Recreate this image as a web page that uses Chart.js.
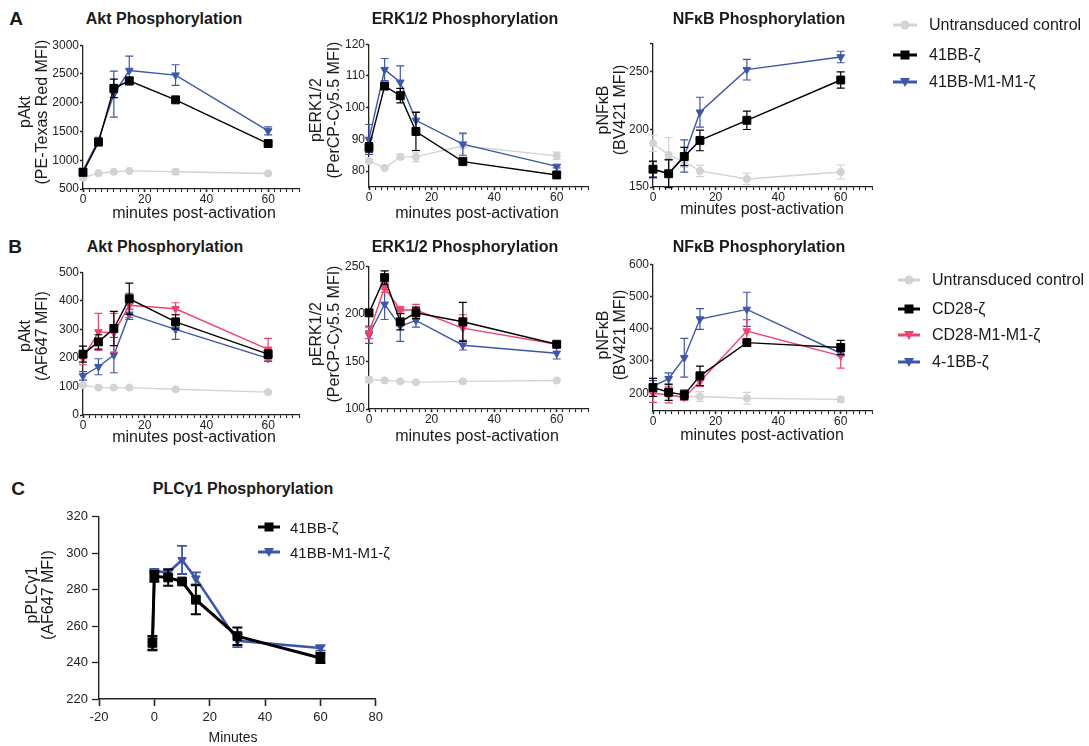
<!DOCTYPE html>
<html><head><meta charset="utf-8">
<script src="https://cdn.jsdelivr.net/npm/chart.js@4.4.0/dist/chart.umd.min.js"></script>
<style>
body{margin:0;background:#fff;}
#wrap{position:relative;width:1089px;height:746px;overflow:hidden;font-family:'Liberation Sans',Arial,sans-serif;color:#1a1a1a;background:#fff;}
canvas{position:absolute;}
.t{position:absolute;white-space:nowrap;transform:translate(-50%,-50%);line-height:1;}
.r{transform:translate(-50%,-50%) rotate(-90deg);}
.l{position:absolute;white-space:nowrap;transform:translate(0,-50%);line-height:1;}
svg{position:absolute;left:0;top:0;}
</style></head><body><div id="wrap"></div>
<script>
// ---------- data ----------
const times = [0, 5, 10, 15, 30, 60];
const timesC = [-0.7, 0, 5, 10, 15, 30, 60];

// Panel A: Akt
const aktA_untr = [695, 775, 800, 815, 800, 770];
const aktA_untrErr = [15, 10, 10, 10, 45, 10];
const aktA_bbz = [790, 1315, 2250, 2380, 2050, 1290];
const aktA_bbzErr = [40, 40, 160, 60, 40, 30];
const aktA_m1 = [820, 1350, 2150, 2560, 2480, 1510];
const aktA_m1Err = [40, 50, 400, 250, 180, 70];
// Panel A: ERK
const erkA_untr = [83.2, 81.0, 84.5, 84.5, 88.0, 84.8];
const erkA_untrErr = [0.5, 0.3, 0.8, 1.5, 3.5, 1.2];
const erkA_bbz = [87.5, 106.8, 103.8, 92.5, 83.0, 78.8];
const erkA_bbzErr = [1.5, 0.5, 2.3, 6.0, 0.6, 0.8];
const erkA_m1 = [90.0, 112.0, 108.0, 96.0, 88.5, 81.5];
const erkA_m1Err = [4.7, 3.5, 5.2, 2.6, 3.5, 0.5];
// Panel A: NFkB
const nfA_untr = [188, 178, 172, 164, 157, 163];
const nfA_untrErr = [7, 15, 5, 5, 5, 6];
const nfA_bbz = [165.5, 161.5, 176.5, 190.5, 208, 243];
const nfA_bbzErr = [7, 12, 8, 9, 8, 7];
const nfA_m1 = [165, 162, 177, 215, 252, 263];
const nfA_m1Err = [7, 12, 14, 13, 9, 5];

// Panel B: Akt
const aktB_untr = [105, 96, 96, 96, 90, 80];
const aktB_untrErr = [5, 3, 3, 3, 3, 3];
const aktB_cd28 = [213, 256, 303, 407, 326, 213];
const aktB_cd28Err = [28, 25, 60, 55, 25, 15];
const aktB_cd28m1 = [198, 291, 288, 384, 372, 230];
const aktB_cd28m1Err = [22, 65, 68, 42, 21, 38];
const aktB_bb = [137, 169, 210, 353, 300, 198];
const aktB_bbErr = [15, 28, 62, 18, 35, 10];
// Panel B: ERK
const erkB_untr = [130.7, 130, 129, 128, 129, 130];
const erkB_untrErr = [3, 1, 1, 1, 1, 1];
const erkB_cd28 = [201, 238, 191.6, 201, 191.6, 168];
const erkB_cd28Err = [1, 7, 8.5, 6, 20.5, 2.5];
const erkB_cd28m1 = [180, 227.5, 204, 204, 185, 168];
const erkB_cd28m1Err = [6, 5, 3.5, 6, 14, 2];
const erkB_bb = [178, 210, 187, 193, 167, 158.5];
const erkB_bbErr = [9, 16, 16, 7, 5, 6];
// Panel B: NFkB
const nfB_untr = [202, 193, 190, 190, 184.5, 181];
const nfB_untrErr = [10, 15, 10, 15, 18, 8];
const nfB_cd28 = [218, 203, 195, 254, 357, 342];
const nfB_cd28Err = [28, 25, 15, 30, 8, 22];
const nfB_cd28m1 = [200, 195, 187, 236, 393, 316];
const nfB_cd28m1Err = [28, 25, 8, 15, 35, 38];
const nfB_bb = [221, 245, 310, 430, 460, 324];
const nfB_bbErr = [18, 18, 60, 32, 53, 8];

// Panel C: PLCg1
const plc_bbz = [250.8, 287.3, 286.7, 284.5, 274.5, 254.5, 242.5];
const plc_bbzErr = [3.8, 3, 4.5, 0.5, 8, 4.8, 2.8];
const plc_m1 = [250, 290.3, 289.4, 296.3, 286.2, 252, 248];
const plc_m1Err = [3.5, 1, 1.2, 7.7, 3.3, 3.5, 1.5];

// ---------- ticks ----------
const xTickLabelsAB = [0, 20, 40, 60];
const yTicksA1 = [500, 1000, 1500, 2000, 2500, 3000];
const yTicksA2 = [80, 90, 100, 110, 120];
const yTicksA3 = [150, 200, 250];
const yTicksB1 = [0, 100, 200, 300, 400, 500];
const yTicksB2 = [100, 150, 200, 250];
const yTicksB3 = [200, 300, 400, 500, 600];
const xTicksC = [-20, 0, 20, 40, 60, 80];
const yTicksC = [220, 240, 260, 280, 300, 320];

// ---------- styles ----------
Chart.defaults.font.family = "'Liberation Sans', Arial, sans-serif";
Chart.defaults.color = '#222';
const ST = {
  grey:  {color:'#d3d3d3', ps:'circle',   r:3.6, rot:0,   bw:1.4},
  black: {color:'#000000', ps:'rect',     r:5.6, rot:0,   bw:1.4},
  blue:  {color:'#3e56a9', ps:'triangle', r:4.4, rot:180, bw:1.4},
  pink:  {color:'#f0426f', ps:'triangle', r:4.4, rot:180, bw:1.4}
};

function ds(label, xs, ys, err, st, extra) {
  const s = ST[st];
  return Object.assign({
    label, data: xs.map((x, i) => ({x, y: ys[i]})), err,
    borderColor: s.color, backgroundColor: s.color,
    pointBackgroundColor: s.color, pointBorderColor: s.color,
    pointStyle: s.ps, pointRadius: s.r, pointRotation: s.rot, pointBorderWidth: 1,
    borderWidth: s.bw, tension: 0, clip: false, errWidth: 1.2, capW: 4
  }, extra || {});
}

const errorBars = {
  id: 'errorBars',
  beforeDatasetDraw(chart, args) {
    const d = chart.data.datasets[args.index];
    if (!d.err) return;
    const xs = chart.scales.x, ys = chart.scales.y, ctx = chart.ctx;
    ctx.save();
    ctx.strokeStyle = d.borderColor;
    ctx.lineWidth = d.errWidth;
    d.data.forEach((p, i) => {
      const e = d.err[i];
      if (!e) return;
      const x = xs.getPixelForValue(p.x);
      const yl = ys.getPixelForValue(p.y - e), yh = ys.getPixelForValue(p.y + e);
      const c = d.capW;
      ctx.beginPath();
      ctx.moveTo(x, yl); ctx.lineTo(x, yh);
      ctx.moveTo(x - c, yl); ctx.lineTo(x + c, yl);
      ctx.moveTo(x - c, yh); ctx.lineTo(x + c, yh);
      ctx.stroke();
    });
    ctx.restore();
  }
};

const wrap = document.getElementById('wrap');

function panel(p) {
  const YW = 70, PT = 8, PR = 10, XH = p.XH || 26;
  const cv = document.createElement('canvas');
  const w = YW + (p.R - p.L) + PR, h = PT + (p.B - p.T) + XH;
  cv.width = w; cv.height = h;
  cv.style.left = (p.L - YW) + 'px'; cv.style.top = (p.T - PT) + 'px';
  cv.style.width = w + 'px'; cv.style.height = h + 'px';
  wrap.appendChild(cv);
  const xMarks = p.xMarks, yMarks = p.yMarks;
  new Chart(cv, {
    type: 'line',
    data: {datasets: p.datasets},
    plugins: [errorBars],
    options: {
      responsive: false, animation: false, devicePixelRatio: 1,
      layout: {padding: {top: PT, right: PR, left: 0, bottom: 0}, autoPadding: false},
      plugins: {legend: {display: false}, tooltip: {enabled: false}, title: {display: false}},
      scales: {
        x: {
          type: 'linear', min: p.xMin, max: p.xMax,
          afterFit(s) { s.height = XH; },
          afterBuildTicks(s) { s.ticks = xMarks.map(v => ({value: v})); },
          ticks: {autoSkip: false, maxRotation: 0, minRotation: 0, padding: p.xPad !== undefined ? p.xPad : 0,
            font: {size: p.fs || 12}, color: '#222',
            callback: v => p.xLabels.includes(v) ? String(v) : ''},
          grid: {display: true, drawOnChartArea: false, drawTicks: true, tickLength: p.xTL || 3,
            tickColor: '#222', tickWidth: c => (c.tick && p.xLabels.includes(c.tick.value)) ? 1.6 : 1.1},
          border: {display: true, color: '#222', width: p.axW || 1.3}
        },
        y: {
          type: 'linear', min: p.yMin, max: p.yMax,
          afterFit(s) { s.width = YW; },
          afterBuildTicks(s) { s.ticks = yMarks.map(v => ({value: v})); },
          ticks: {autoSkip: false, padding: p.yPad !== undefined ? p.yPad : 1, font: {size: p.fs || 12}, color: '#222',
            callback: v => p.yLabels.includes(v) ? String(v) : ''},
          grid: {display: true, drawOnChartArea: false, drawTicks: true, tickLength: p.yTL || 3,
            tickColor: '#222', tickWidth: 1.3},
          border: {display: true, color: '#222', width: p.axW || 1.3}
        }
      }
    }
  });
}

const minorX = [];
for (let v = 0; v <= 70; v += 2) minorX.push(v);

function abPanel(L, R, T, B, yMin, yMax, yLabels, yMarks, datasets) {
  panel({L, R, T, B, xMin: 0, xMax: 70, yMin, yMax, xLabels: xTickLabelsAB, xMarks: minorX,
    yLabels, yMarks: yMarks || yLabels, datasets});
}

// Row A
abPanel(83, 299, 45, 189, 500, 3000, yTicksA1, null, [
  ds('41BB-ζ', times, aktA_bbz, aktA_bbzErr, 'black'),
  ds('41BB-M1-M1-ζ', times, aktA_m1, aktA_m1Err, 'blue'),
  ds('Untransduced control', times, aktA_untr, aktA_untrErr, 'grey')
]);
abPanel(369, 588, 44, 187, 75, 120, yTicksA2, null, [
  ds('41BB-ζ', times, erkA_bbz, erkA_bbzErr, 'black'),
  ds('41BB-M1-M1-ζ', times, erkA_m1, erkA_m1Err, 'blue'),
  ds('Untransduced control', times, erkA_untr, erkA_untrErr, 'grey')
]);
abPanel(653, 872, 43, 187, 150, 275, yTicksA3, yTicksA3.concat([275]), [
  ds('41BB-ζ', times, nfA_bbz, nfA_bbzErr, 'black'),
  ds('41BB-M1-M1-ζ', times, nfA_m1, nfA_m1Err, 'blue'),
  ds('Untransduced control', times, nfA_untr, nfA_untrErr, 'grey')
]);
// Row B
abPanel(83, 299, 272, 415, 0, 500, yTicksB1, null, [
  ds('CD28-ζ', times, aktB_cd28, aktB_cd28Err, 'black'),
  ds('CD28-M1-M1-ζ', times, aktB_cd28m1, aktB_cd28m1Err, 'pink'),
  ds('4-1BB-ζ', times, aktB_bb, aktB_bbErr, 'blue'),
  ds('Untransduced control', times, aktB_untr, aktB_untrErr, 'grey')
]);
abPanel(369, 588, 266, 409, 100, 250, yTicksB2, null, [
  ds('CD28-ζ', times, erkB_cd28, erkB_cd28Err, 'black'),
  ds('CD28-M1-M1-ζ', times, erkB_cd28m1, erkB_cd28m1Err, 'pink'),
  ds('4-1BB-ζ', times, erkB_bb, erkB_bbErr, 'blue'),
  ds('Untransduced control', times, erkB_untr, erkB_untrErr, 'grey')
]);
abPanel(653, 872, 264, 411, 145, 600, yTicksB3, null, [
  ds('CD28-ζ', times, nfB_cd28, nfB_cd28Err, 'black'),
  ds('CD28-M1-M1-ζ', times, nfB_cd28m1, nfB_cd28m1Err, 'pink'),
  ds('4-1BB-ζ', times, nfB_bb, nfB_bbErr, 'blue'),
  ds('Untransduced control', times, nfB_untr, nfB_untrErr, 'grey')
]);
// Row C
panel({L: 99, R: 377, T: 513, B: 699, xMin: -20, xMax: 80, yMin: 220, yMax: 320,
  xLabels: xTicksC, xMarks: xTicksC, yLabels: yTicksC, yMarks: yTicksC,
  fs: 13, xTL: 7, yTL: 7, xPad: 4, yPad: 4, XH: 32, axW: 1.4,
  datasets: [
    ds('41BB-ζ', timesC, plc_bbz, plc_bbzErr, 'black', {borderWidth: 3, errWidth: 2, capW: 5, pointRadius: 6.2}),
    ds('41BB-M1-M1-ζ', timesC, plc_m1, plc_m1Err, 'blue', {borderWidth: 2.6, errWidth: 1.8, capW: 5, pointRadius: 4.8})
  ]});

// ---------- text ----------
function text(s, x, y, size, bold, rot) {
  const d = document.createElement('div');
  d.className = 't' + (rot ? ' r' : '');
  d.textContent = s;
  d.style.left = x + 'px'; d.style.top = y + 'px';
  d.style.fontSize = size + 'px';
  if (bold) d.style.fontWeight = 'bold';
  wrap.appendChild(d);
}
text('A', 16, 18, 19, true);
text('B', 15, 246, 19, true);
text('C', 18, 488, 19, true);
text('Akt Phosphorylation', 164, 19, 16, true);
text('ERK1/2 Phosphorylation', 465, 19, 16, true);
text('NFκB Phosphorylation', 759, 19, 16, true);
text('Akt Phosphorylation', 165, 247, 16, true);
text('ERK1/2 Phosphorylation', 465, 247, 16, true);
text('NFκB Phosphorylation', 759, 247, 16, true);
text('PLCγ1 Phosphorylation', 243, 489, 16, true);

text('pAkt', 25, 112, 16, false, true);
text('(PE-Texas Red MFI)', 42, 112, 16, false, true);
text('pERK1/2', 316, 110, 16, false, true);
text('(PerCP-Cy5.5 MFI)', 334, 110, 16, false, true);
text('pNFκB', 603, 110, 16, false, true);
text('(BV421 MFI)', 620, 110, 16, false, true);
text('pAkt', 25, 336, 16, false, true);
text('(AF647 MFI)', 42, 336, 16, false, true);
text('pERK1/2', 316, 334, 16, false, true);
text('(PerCP-Cy5.5 MFI)', 334, 334, 16, false, true);
text('pNFκB', 603, 335, 16, false, true);
text('(BV421 MFI)', 620, 335, 16, false, true);
text('pPLCγ1', 32, 595, 16, false, true);
text('(AF647 MFI)', 48, 595, 16, false, true);

text('minutes post-activation', 194, 213, 16);
text('minutes post-activation', 477, 213, 16);
text('minutes post-activation', 762, 209, 16);
text('minutes post-activation', 194, 437, 16);
text('minutes post-activation', 477, 436, 16);
text('minutes post-activation', 762, 435, 16);
text('Minutes', 233, 737, 14);

// ---------- legends ----------
const NS = 'http://www.w3.org/2000/svg';
const svg = document.createElementNS(NS, 'svg');
svg.setAttribute('width', 1089); svg.setAttribute('height', 746);
wrap.appendChild(svg);
function el(tag, attrs) {
  const e = document.createElementNS(NS, tag);
  for (const k in attrs) e.setAttribute(k, attrs[k]);
  svg.appendChild(e);
}
function legend(x1, x2, y, st, label, tx, size, lw) {
  const s = ST[st], c = s.color, cx = (x1 + x2) / 2;
  el('line', {x1, x2, y1: y, y2: y, stroke: c, 'stroke-width': lw});
  if (s.ps === 'circle') el('circle', {cx, cy: y, r: 4.5, fill: c});
  else if (s.ps === 'rect') el('rect', {x: cx - 4.5, y: y - 4.5, width: 9, height: 9, fill: c});
  else el('polygon', {points: `${cx - 5},${y - 4} ${cx + 5},${y - 4} ${cx},${y + 5}`, fill: c});
  const d = document.createElement('div');
  d.className = 'l'; d.textContent = label;
  d.style.left = tx + 'px'; d.style.top = y + 'px'; d.style.fontSize = size + 'px';
  wrap.appendChild(d);
}
legend(893, 917, 25, 'grey', 'Untransduced control', 929, 16, 3);
legend(893, 917, 55, 'black', '41BB-ζ', 929, 16, 3);
legend(893, 917, 82, 'blue', '41BB-M1-M1-ζ', 929, 16, 3);
legend(898, 920, 280, 'grey', 'Untransduced control', 932, 16, 3);
legend(898, 920, 309, 'black', 'CD28-ζ', 932, 16, 3);
legend(898, 920, 335, 'pink', 'CD28-M1-M1-ζ', 932, 16, 3);
legend(898, 920, 362, 'blue', '4-1BB-ζ', 932, 16, 3);
legend(258, 280, 527, 'black', '41BB-ζ', 290, 15, 3);
legend(258, 280, 552, 'blue', '41BB-M1-M1-ζ', 290, 15, 3);
</script></body></html>
